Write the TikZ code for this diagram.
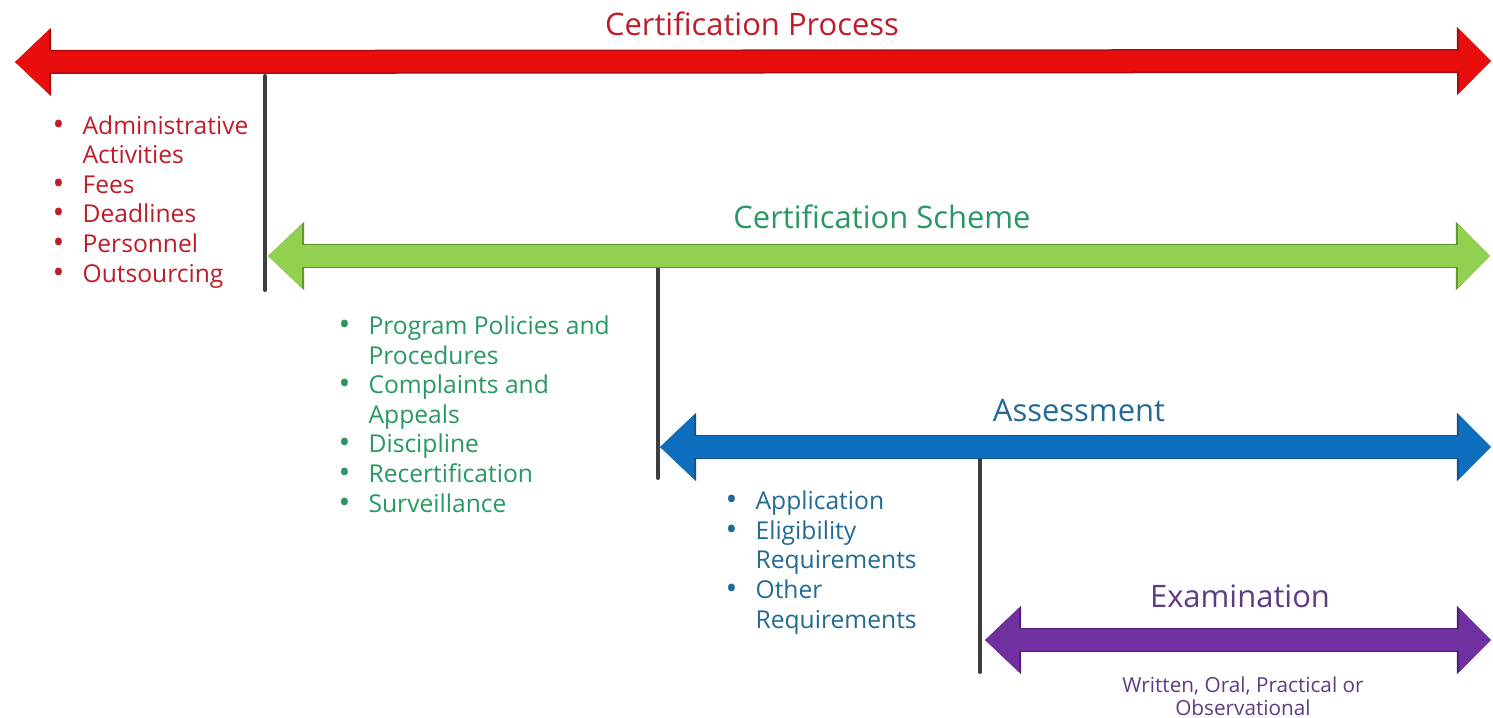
\documentclass[tikz,border=0pt]{standalone}
\usepackage{fontspec}
\setmainfont{Open Sans}
\usetikzlibrary{arrows.meta}

\definecolor{procfill}{RGB}{232,14,14}
\definecolor{procline}{RGB}{170,10,10}
\definecolor{proctext}{RGB}{190,28,40}
\definecolor{schfill}{RGB}{146,208,80}
\definecolor{schline}{RGB}{96,150,48}
\definecolor{schtext}{RGB}{40,152,98}
\definecolor{assfill}{RGB}{14,110,190}
\definecolor{assline}{RGB}{20,80,140}
\definecolor{asstext}{RGB}{34,106,148}
\definecolor{exfill}{RGB}{112,48,160}
\definecolor{exline}{RGB}{80,30,120}
\definecolor{extext}{RGB}{94,60,130}
\definecolor{bargray}{RGB}{62,62,62}

\tikzset{
  span/.style n args={2}{draw=#1, line width=0.21cm,
    {Triangle[length=0.34cm,width=0.62cm]}-{Triangle[length=0.32cm,width=0.62cm]},
    preaction={draw=#2, line width=0.24cm,
      {Triangle[length=0.36cm,width=0.66cm]}-{Triangle[length=0.34cm,width=0.66cm]}}},
  bar/.style={draw=bargray, line width=0.04cm, line cap=round},
  title/.style={font=\fontsize{8.8}{10}\selectfont, anchor=base, inner sep=0pt},
  items/.style={font=\fontsize{7}{8.4}\selectfont, align=left, anchor=base west, inner sep=0pt},
}
\newcommand{\itm}{\makebox[8.5pt][l]{\raisebox{-0.3pt}{\fontsize{9}{9}\selectfont\textbullet}}}
\newcommand{\cnt}{\makebox[8.5pt]{}}

\begin{document}
\begin{tikzpicture}[x=0.01cm,y=-0.01cm]
    \useasboundingbox (0,0) rectangle (1493,718);

    % span ends
    \coordinate (proc-l) at (15,62);
    \coordinate (proc-r) at (1491,61);
    \coordinate (sch-l) at (268,256);
    \coordinate (sch-r) at (1490,256);
    \coordinate (ass-l) at (660,447);
    \coordinate (ass-r) at (1491,447);
    \coordinate (ex-l) at (985,640);
    \coordinate (ex-r) at (1491,640);

    % dividers
    \coordinate (bar1-t) at (265,76);
    \coordinate (bar1-b) at (265,290);
    \coordinate (bar2-t) at (658,266);
    \coordinate (bar2-b) at (658,478);
    \coordinate (bar3-t) at (980,458);
    \coordinate (bar3-b) at (980,672);

    \draw[bar] (bar1-t) -- (bar1-b);
    \draw[bar] (bar2-t) -- (bar2-b);
    \draw[bar] (bar3-t) -- (bar3-b);

    \draw[span={procfill}{procline}] (proc-l) -- (proc-r);
    \draw[span={schfill}{schline}] (sch-l) -- (sch-r);
    \draw[span={assfill}{assline}] (ass-l) -- (ass-r);
    \draw[span={exfill}{exline}] (ex-l) -- (ex-r);

    \node[title, text=proctext] (proc) at (752,35) {Certification Process};
    \node[title, text=schtext] (sch) at (882,228) {Certification Scheme};
    \node[title, text=asstext] (ass) at (1079,421) {Assessment};
    \node[title, text=extext] (ex) at (1240,607) {Examination};

    % lists, placed by their last baseline
    \node[items, text=proctext] (proc-items) at (52,282)
      {\itm Administrative\\ \cnt Activities\\ \itm Fees\\ \itm Deadlines\\ \itm Personnel\\ \itm Outsourcing};
    \node[items, text=schtext] (sch-items) at (338,512)
      {\itm Program Policies and\\ \cnt Procedures\\ \itm Complaints and\\ \cnt Appeals\\ \itm Discipline\\ \itm Recertification\\ \itm Surveillance};
    \node[items, text=asstext] (ass-items) at (725,628)
      {\itm Application\\ \itm Eligibility\\ \cnt Requirements\\ \itm Other\\ \cnt Requirements};
    \node[font=\fontsize{5.9}{6.5}\selectfont, align=center, anchor=base, inner sep=0pt, text=extext] (ex-note) at (1243,715)
      {Written, Oral, Practical or\\ Observational};
\end{tikzpicture}
\end{document}
